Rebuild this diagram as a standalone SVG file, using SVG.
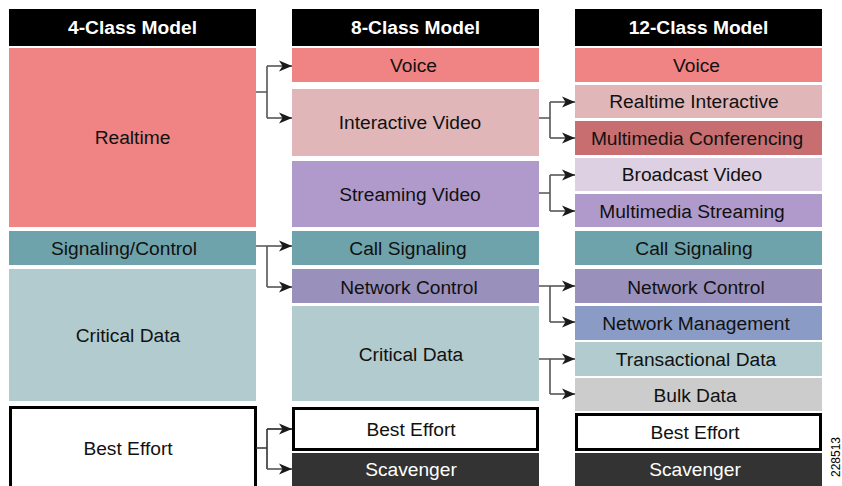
<svg xmlns="http://www.w3.org/2000/svg" width="842" height="486" viewBox="0 0 842 486">
<style>
text{font-family:"Liberation Sans",Arial,Helvetica,sans-serif;font-size:19.2px;text-anchor:middle;fill:#111}
.hd{fill:#fff;font-weight:bold}
.hb{fill:#000}
.w{fill:#fff}
.be{fill:#fff;stroke:#000;stroke-width:3}
.c{fill:none;stroke:#555;stroke-width:1.6}
</style>
<defs>
<marker id="ah" markerUnits="userSpaceOnUse" markerWidth="14" markerHeight="12" refX="13" refY="6" orient="auto">
<path d="M0,0.5 L13,6 L0,11.5 L3.5,6 Z" fill="#1a1a1a"/>
</marker>
</defs>
<rect width="842" height="486" fill="#fff"/>

<g id="col1">
<g id="h4"><rect class="hb" x="9" y="9" width="247" height="37"/><text class="hd" x="132.5" y="34">4-Class Model</text></g>
<g id="c1-realtime"><rect x="9" y="48" width="247" height="179" fill="#F08383"/><text x="132.5" y="144">Realtime</text></g>
<g id="c1-signaling"><rect x="9" y="231" width="247" height="34" fill="#6FA3AB"/><text x="124" y="254.5">Signaling/Control</text></g>
<g id="c1-critical"><rect x="9" y="269" width="247" height="132" fill="#B1CBCE"/><text x="128" y="341.5">Critical Data</text></g>
<g id="c1-besteffort"><rect class="be" x="10.5" y="407.5" width="245" height="82"/><text x="128" y="454.5">Best Effort</text></g>
</g>

<g id="col2">
<g id="h8"><rect class="hb" x="292" y="9" width="247" height="37"/><text class="hd" x="415.5" y="34">8-Class Model</text></g>
<g id="c2-voice"><rect x="292" y="48" width="247" height="34" fill="#F08383"/><text x="413.5" y="71.5">Voice</text></g>
<g id="c2-ivideo"><rect x="292" y="89" width="247" height="67" fill="#E0B6B8"/><text x="410" y="128.5">Interactive Video</text></g>
<g id="c2-svideo"><rect x="292" y="161" width="247" height="66" fill="#B09ACB"/><text x="410" y="200.5">Streaming Video</text></g>
<g id="c2-callsig"><rect x="292" y="231" width="247" height="34" fill="#6FA3AB"/><text x="408" y="254.5">Call Signaling</text></g>
<g id="c2-netctl"><rect x="292" y="269" width="247" height="34" fill="#9990BB"/><text x="409" y="293.5">Network Control</text></g>
<g id="c2-critical"><rect x="292" y="306" width="247" height="95" fill="#B1CBCE"/><text x="411" y="360.5">Critical Data</text></g>
<g id="c2-besteffort"><rect class="be" x="293.5" y="408.5" width="244" height="41"/><text x="411" y="435.5">Best Effort</text></g>
<g id="c2-scavenger"><rect x="292" y="453" width="247" height="33" fill="#333333"/><text class="w" x="411" y="475.5">Scavenger</text></g>
</g>

<g id="col3">
<g id="h12"><rect class="hb" x="575" y="9" width="247" height="37"/><text class="hd" x="698.5" y="34">12-Class Model</text></g>
<g id="c3-voice"><rect x="575" y="48" width="247" height="34" fill="#F08383"/><text x="696.5" y="71.5">Voice</text></g>
<g id="c3-rtint"><rect x="575" y="85" width="247" height="33" fill="#E0B6B8"/><text x="694" y="107.5">Realtime Interactive</text></g>
<g id="c3-mmconf"><rect x="575" y="121" width="247" height="34" fill="#C86E70"/><text x="697" y="144.5">Multimedia Conferencing</text></g>
<g id="c3-bcast"><rect x="575" y="158" width="247" height="33" fill="#DCD0E2"/><text x="692" y="180.5">Broadcast Video</text></g>
<g id="c3-mmstream"><rect x="575" y="194" width="247" height="33" fill="#B09ACB"/><text x="692" y="217.5">Multimedia Streaming</text></g>
<g id="c3-callsig"><rect x="575" y="231" width="247" height="34" fill="#6FA3AB"/><text x="694" y="254.5">Call Signaling</text></g>
<g id="c3-netctl"><rect x="575" y="269" width="247" height="34" fill="#9990BB"/><text x="696" y="293.5">Network Control</text></g>
<g id="c3-netmgmt"><rect x="575" y="306" width="247" height="34" fill="#8A9CC6"/><text x="696" y="329.5">Network Management</text></g>
<g id="c3-trans"><rect x="575" y="342" width="247" height="34" fill="#B1CBCE"/><text x="696" y="365.5">Transactional Data</text></g>
<g id="c3-bulk"><rect x="575" y="378" width="247" height="33" fill="#CCCCCC"/><text x="695" y="401.5">Bulk Data</text></g>
<g id="c3-besteffort"><rect class="be" x="576.5" y="414.5" width="244" height="35"/><text x="695" y="438.5">Best Effort</text></g>
<g id="c3-scavenger"><rect x="575" y="453" width="247" height="33" fill="#333333"/><text class="w" x="695" y="475.5">Scavenger</text></g>
</g>

<g id="connectors">
<path class="c" d="M256,92 H267 M267,66 V118"/>
<path class="c" d="M267,66 H292" marker-end="url(#ah)"/>
<path class="c" d="M267,118 H292" marker-end="url(#ah)"/>

<path class="c" d="M256,246 H267 M267,246 V287"/>
<path class="c" d="M267,246 H292" marker-end="url(#ah)"/>
<path class="c" d="M267,287 H292" marker-end="url(#ah)"/>

<path class="c" d="M256,448 H267 M267,429 V469" style="stroke:#333"/>
<path class="c" d="M267,429 H292" marker-end="url(#ah)" style="stroke:#222"/>
<path class="c" d="M267,469 H292" marker-end="url(#ah)"/>

<path class="c" d="M539,118 H550 M550,102 V138"/>
<path class="c" d="M550,102 H575" marker-end="url(#ah)"/>
<path class="c" d="M550,138 H575" marker-end="url(#ah)"/>

<path class="c" d="M539,193 H550 M550,175 V211"/>
<path class="c" d="M550,175 H575" marker-end="url(#ah)"/>
<path class="c" d="M550,211 H575" marker-end="url(#ah)"/>

<path class="c" d="M539,286 H550 M550,286 V322"/>
<path class="c" d="M550,286 H575" marker-end="url(#ah)"/>
<path class="c" d="M550,322 H575" marker-end="url(#ah)"/>

<path class="c" d="M539,359 H550 M550,359 V394"/>
<path class="c" d="M550,359 H575" marker-end="url(#ah)"/>
<path class="c" d="M550,394 H575" marker-end="url(#ah)"/>
</g>

<text x="0" y="0" transform="translate(840,457) rotate(-90)" style="font-size:12px;fill:#000">228513</text>
</svg>
